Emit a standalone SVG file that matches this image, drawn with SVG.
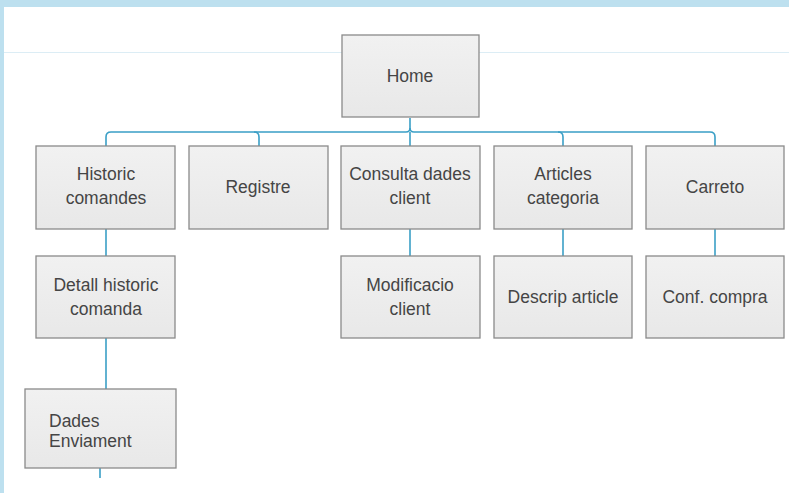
<svg xmlns="http://www.w3.org/2000/svg" width="789" height="493" viewBox="0 0 789 493">
<style>
.box{fill:url(#g);stroke:#8a8a8a;stroke-width:1.3}
.t{font-family:"Liberation Sans",Arial,sans-serif;font-size:17.5px;fill:#454545;text-anchor:middle}
.tl{text-anchor:start}
.c{fill:none;stroke:#3a9fc6;stroke-width:1.6}
</style>
<defs>
<linearGradient id="g" x1="0" y1="0" x2="0" y2="1">
<stop offset="0" stop-color="#f1f1f1"/>
<stop offset="1" stop-color="#e8e8e8"/>
</linearGradient>
</defs>
<rect x="0" y="0" width="789" height="493" fill="#ffffff"/>
<rect x="0" y="0" width="789" height="7" fill="#bde0ef"/>
<rect x="0" y="0" width="4" height="493" fill="#bde0ef"/>
<line x1="4" y1="52.5" x2="789" y2="52.5" stroke="#dcedf5" stroke-width="1"/>
<g id="connectors">
<path class="c" d="M410 118 V128 Q410 132 406 132 H111 Q106 132 106 137 V146"/>
<path class="c" d="M410 128 Q410 132 414 132 H710 Q715 132 715 137 V146"/>
<path class="c" d="M254 132 Q259 132 259 137 V146"/>
<path class="c" d="M410 132 V146"/>
<path class="c" d="M558 132 Q563 132 563 137 V146"/>
<path class="c" d="M106 229 V256"/>
<path class="c" d="M410 229 V256"/>
<path class="c" d="M563 229 V256"/>
<path class="c" d="M715 229 V256"/>
<path class="c" d="M106 338 V389"/>
<path class="c" d="M100 468 V478"/>
</g>
<g id="home"><rect class="box" x="342" y="35" width="137" height="82"/><text class="t" x="410" y="82">Home</text></g>
<g id="historic"><rect class="box" x="36" y="146" width="139" height="83"/><text class="t" x="106" y="180">Historic</text><text class="t" x="106" y="204">comandes</text></g>
<g id="registre"><rect class="box" x="189" y="146" width="139" height="83"/><text class="t" x="258" y="193">Registre</text></g>
<g id="consulta"><rect class="box" x="341" y="146" width="139" height="83"/><text class="t" x="410" y="180">Consulta dades</text><text class="t" x="410" y="204">client</text></g>
<g id="articles"><rect class="box" x="494" y="146" width="138" height="83"/><text class="t" x="563" y="180">Articles</text><text class="t" x="563" y="204">categoria</text></g>
<g id="carreto"><rect class="box" x="646" y="146" width="138" height="83"/><text class="t" x="715" y="193">Carreto</text></g>
<g id="detall"><rect class="box" x="36" y="256" width="139" height="82"/><text class="t" x="106" y="291">Detall historic</text><text class="t" x="106" y="315">comanda</text></g>
<g id="modificacio"><rect class="box" x="341" y="256" width="139" height="82"/><text class="t" x="410" y="291">Modificacio</text><text class="t" x="410" y="315">client</text></g>
<g id="descrip"><rect class="box" x="494" y="256" width="138" height="82"/><text class="t" x="563" y="303">Descrip article</text></g>
<g id="conf"><rect class="box" x="646" y="256" width="138" height="82"/><text class="t" x="715" y="303">Conf. compra</text></g>
<g id="dades"><rect class="box" x="25" y="389" width="151" height="79"/><text class="t tl" x="49" y="427">Dades</text><text class="t tl" x="49" y="447">Enviament</text></g>
</svg>
